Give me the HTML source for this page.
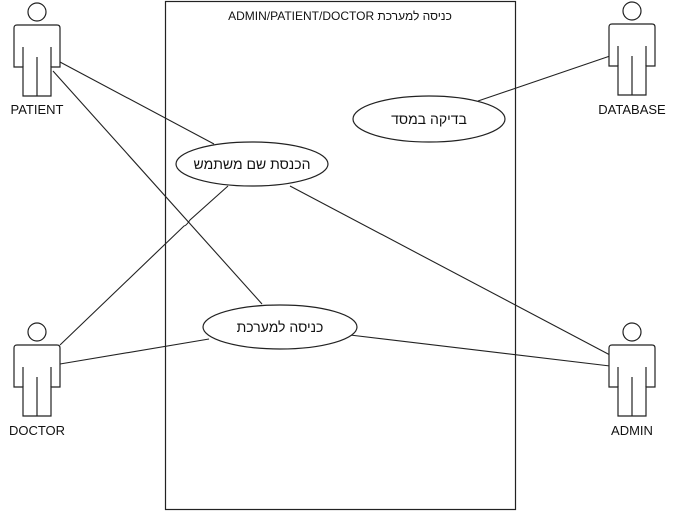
<!DOCTYPE html>
<html><head><meta charset="utf-8"><style>
html,body{margin:0;padding:0;background:#fff;width:676px;height:511px;overflow:hidden}
svg{display:block}
text{font-family:"Liberation Sans","Noto Sans CJK SC",sans-serif;fill:#111}
</style></head><body>
<svg width="676" height="511" viewBox="0 0 676 511" xmlns="http://www.w3.org/2000/svg">
<defs>
<g id="actor" fill="none" stroke="#222" stroke-width="1.2">
<circle cx="0" cy="-13" r="9" fill="#fff"/>
<path d="M-14,42 L-23,42 L-23,3 Q-23,0 -20,0 L20,0 Q23,0 23,3 L23,42 L14,42 L14,71 L-14,71 Z" fill="#fff"/>
<line x1="-14" y1="22" x2="-14" y2="42"/>
<line x1="14" y1="22" x2="14" y2="42"/>
<line x1="0" y1="32" x2="0" y2="71"/>
</g>
</defs>
<rect x="165.5" y="1.5" width="350" height="508" fill="none" stroke="#222" stroke-width="1.2"/>
<text x="340" y="20" font-size="12" text-anchor="middle">ADMIN/PATIENT/DOCTOR  כניסה למערכת</text>
<g stroke="#222" stroke-width="1.1" fill="none">
<line x1="60" y1="62" x2="214" y2="144"/>
<line x1="53" y1="71" x2="262" y2="304"/>
<line x1="610" y1="56" x2="478" y2="101"/>
<line x1="290" y1="186" x2="610" y2="355"/>
<path d="M228,186 L190,220 Q186,226 184,226 L60,345"/>
<line x1="60" y1="364" x2="209" y2="339"/>
<line x1="350" y1="335" x2="610" y2="366"/>
</g>
<g stroke="#222" stroke-width="1.2" fill="#fff">
<ellipse cx="429" cy="119" rx="76" ry="23"/>
<ellipse cx="252" cy="164" rx="76" ry="22"/>
<ellipse cx="280" cy="327" rx="77" ry="22"/>
</g>
<text x="429" y="124" font-size="14" text-anchor="middle">בדיקה במסד</text>
<text x="252" y="169" font-size="14" text-anchor="middle">הכנסת שם משתמש</text>
<text x="280" y="332" font-size="14" text-anchor="middle">כניסה למערכת</text>
<use href="#actor" x="37" y="25"/>
<use href="#actor" x="632" y="24"/>
<use href="#actor" x="37" y="345"/>
<use href="#actor" x="632" y="345"/>
<text x="37" y="114" font-size="13" text-anchor="middle">PATIENT</text>
<text x="632" y="114" font-size="13" text-anchor="middle">DATABASE</text>
<text x="37" y="435" font-size="13" text-anchor="middle">DOCTOR</text>
<text x="632" y="435" font-size="13" text-anchor="middle">ADMIN</text>
</svg>
</body></html>
